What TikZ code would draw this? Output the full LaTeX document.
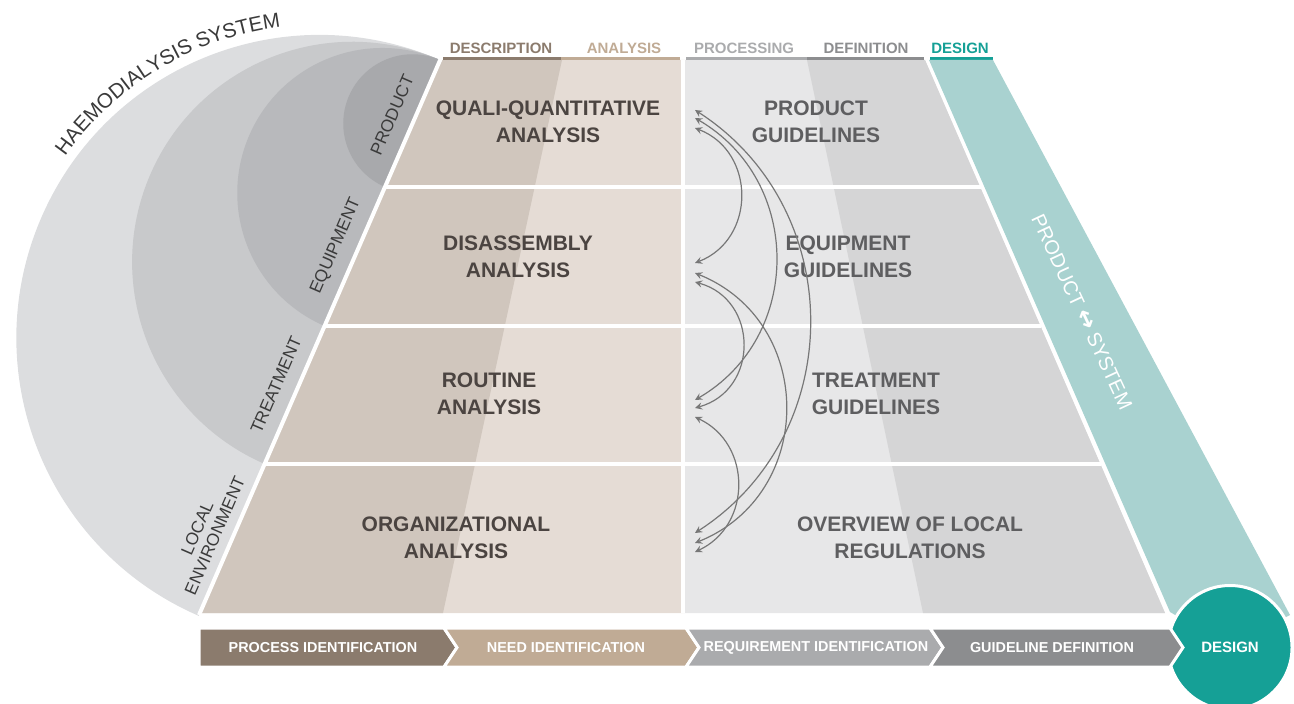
\documentclass[tikz,border=0pt]{standalone}
\usepackage{fontspec}
\setmainfont{Liberation Sans}
\newfontfamily\arrowfont{DejaVu Sans}
\usetikzlibrary{decorations.text}

\definecolor{sysgrey}{HTML}{DCDDDF}
\definecolor{treatgrey}{HTML}{C8C9CB}
\definecolor{equipgrey}{HTML}{B8B9BC}
\definecolor{prodgrey}{HTML}{A8A9AC}
\definecolor{descrfill}{HTML}{D0C6BD}
\definecolor{analfill}{HTML}{E5DCD5}
\definecolor{procfill}{HTML}{E7E7E8}
\definecolor{deffill}{HTML}{D5D5D6}
\definecolor{bandteal}{HTML}{A9D2D0}
\definecolor{designteal}{HTML}{15A096}
\definecolor{descrtone}{HTML}{8B7B6D}
\definecolor{analtone}{HTML}{C0AB95}
\definecolor{proctone}{HTML}{AAABAD}
\definecolor{deftone}{HTML}{8C8D8F}
\definecolor{lefttext}{HTML}{4B4441}
\definecolor{righttext}{HTML}{5E5E60}
\definecolor{sidetext}{HTML}{3A3A3A}
\definecolor{guidegrey}{HTML}{777777}

\begin{document}
\begin{tikzpicture}[x=0.5pt, y=-0.5pt, >=stealth,
	celltitle/.style={font=\bfseries\fontsize{10.5}{13.3}\selectfont, align=center},
	headlabel/.style={font=\bfseries\fontsize{7.5}{9}\selectfont},
	sidelabel/.style={font=\fontsize{8.6}{9.6}\selectfont, text=sidetext, align=center, rotate=\slant},
	steplabel/.style={font=\bfseries\fontsize{7.2}{9}\selectfont, text=white},
	bandlabel/.style={font=\fontsize{10}{12}\selectfont, text=white},
	guidearrow/.style={<->, guidegrey, line width=0.6pt},
	whiteline/.style={white, line width=2pt}]

%\halfdisc{radius}{colour}
\newcommand*{\halfdisc}[2]{%
	\fill [#2] (440,60) arc [radius=#1, start angle=-66.54, end angle=-246.54] -- cycle;
}

%\stepchevron{left}{right}{colour}
\newcommand*{\stepchevron}[3]{%
	\filldraw [fill=#3, draw=white, line width=1.5pt] (#1,628) -- (#2,628) -- ++(13,19.5) -- (#2,667) -- (#1,667) -- ++(13,-19.5) -- cycle;
}

\def\slant{66.54}

\useasboundingbox (0,0) rectangle (1294,704);

% haemodialysis system
\halfdisc{303}{sysgrey}
\halfdisc{220.2}{treatgrey}
\halfdisc{145.0}{equipgrey}
\halfdisc{69.2}{prodgrey}

\path [decorate, decoration={text along path, text align=center, text color=sidetext,
	text={|\fontsize{10.3}{12}\selectfont|HAEMODIALYSIS SYSTEM}}]
	(18.63,255.75) arc [radius=312, start angle=-165, end angle=-77];

\node [sidelabel] (prodlab) at (392,115) {PRODUCT};
\node [sidelabel] (equiplab) at (336,246) {EQUIPMENT};
\node [sidelabel] (treatlab) at (276,385) {TREATMENT};
\node [sidelabel] (locallab) at (206,532) {LOCAL\\ENVIRONMENT};

% matrix
\fill [analfill] (440,60) -- (683,60) -- (683,613) -- (200,613) -- cycle;
\fill [descrfill] (440,60) -- (562,60) -- (443,613) -- (200,613) -- cycle;
\fill [procfill] (683,60) -- (925,60) -- (1165,613) -- (683,613) -- cycle;
\fill [deffill] (807,60) -- (925,60) -- (1165,613) -- (923,613) -- cycle;

\draw [whiteline] (441,58) -- (199,615);
\draw [whiteline] (683,60) -- (683,613);
\draw [whiteline] (384,187) -- (981,187);
\draw [whiteline] (324,326) -- (1041,326);
\draw [whiteline] (264,464) -- (1101,464);

% header
\node [headlabel, text=descrtone] (hdesc) at (501,48) {DESCRIPTION};
\node [headlabel, text=analtone] (hanal) at (624,48) {ANALYSIS};
\node [headlabel, text=proctone] (hproc) at (744,48) {PROCESSING};
\node [headlabel, text=deftone] (hdef) at (866,48) {DEFINITION};
\node [headlabel, text=designteal] (hdesign) at (960,48) {DESIGN};

\draw [descrtone, line width=1.5pt] (443,59) -- (561,59);
\draw [analtone, line width=1.5pt] (561,59) -- (680,59);
\draw [proctone, line width=1.5pt] (686,59) -- (807,59);
\draw [deftone, line width=1.5pt] (807,59) -- (924,59);
\draw [designteal, line width=1.5pt] (930,59) -- (993,59);

% cell titles
\node [celltitle, text=lefttext] (qqa) at (548,122) {QUALI-QUANTITATIVE\\ANALYSIS};
\node [celltitle, text=lefttext] (dsa) at (518,257) {DISASSEMBLY\\ANALYSIS};
\node [celltitle, text=lefttext] (rta) at (489,394) {ROUTINE\\ANALYSIS};
\node [celltitle, text=lefttext] (oga) at (456,538) {ORGANIZATIONAL\\ANALYSIS};
\node [celltitle, text=righttext] (pgl) at (816,122) {PRODUCT\\GUIDELINES};
\node [celltitle, text=righttext] (egl) at (848,257) {EQUIPMENT\\GUIDELINES};
\node [celltitle, text=righttext] (tgl) at (876,394) {TREATMENT\\GUIDELINES};
\node [celltitle, text=righttext] (olr) at (910,538) {OVERVIEW OF LOCAL\\REGULATIONS};

% links between guidelines
\coordinate (q1) at (695,110);
\coordinate (q2) at (695,118);
\coordinate (q3) at (695,128);
\coordinate (e1) at (695,263);
\coordinate (e2) at (695,273);
\coordinate (e3) at (695,282);
\coordinate (t1) at (695,400);
\coordinate (t2) at (695,408);
\coordinate (t3) at (695,417);
\coordinate (l1) at (695,533);
\coordinate (l2) at (695,543);
\coordinate (l3) at (695,552);

\draw [guidearrow] (q1) .. controls +(153,99) and +(153,-99) .. (l1);
\draw [guidearrow] (q2) .. controls +(108,63) and +(108,-63) .. (t1);
\draw [guidearrow] (q3) .. controls +(61,24) and +(61,-24) .. (e1);
\draw [guidearrow] (e2) .. controls +(121,49) and +(121,-49) .. (l2);
\draw [guidearrow] (e3) .. controls +(64,18) and +(64,-18) .. (t2);
\draw [guidearrow] (t3) .. controls +(57,27) and +(57,-27) .. (l3);

% design band
\fill [bandteal] (929,60) -- (993,60) -- (1290,615) -- (1230,647) -- (1170,612) -- cycle;
\node [bandlabel, rotate=-65] (prodsys) at (1082,312) {PRODUCT {\arrowfont\bfseries\fontsize{12}{12}\selectfont ↔} SYSTEM};

% steps
\node [circle, fill=designteal, draw=white, line width=1.5pt, minimum size=62pt, inner sep=0pt,
	font=\bfseries\fontsize{7.5}{9}\selectfont, text=white] (design) at (1230,647.5) {DESIGN};

\filldraw [fill=descrtone, draw=white, line width=1.5pt] (199,628) -- (444,628) -- ++(13,19.5) -- (444,667) -- (199,667) -- cycle;
\stepchevron{444}{686}{analtone}
\stepchevron{686}{930}{proctone}
\stepchevron{930}{1170}{deftone}

\node [steplabel] (procid) at (323,647.5) {PROCESS IDENTIFICATION};
\node [steplabel] (needid) at (566,647.5) {NEED IDENTIFICATION};
\node [steplabel] (reqid) at (816,647.5) {REQUIREMENT IDENTIFICATION};
\node [steplabel] (guidedef) at (1052,647.5) {GUIDELINE DEFINITION};

\end{tikzpicture}
\end{document}
